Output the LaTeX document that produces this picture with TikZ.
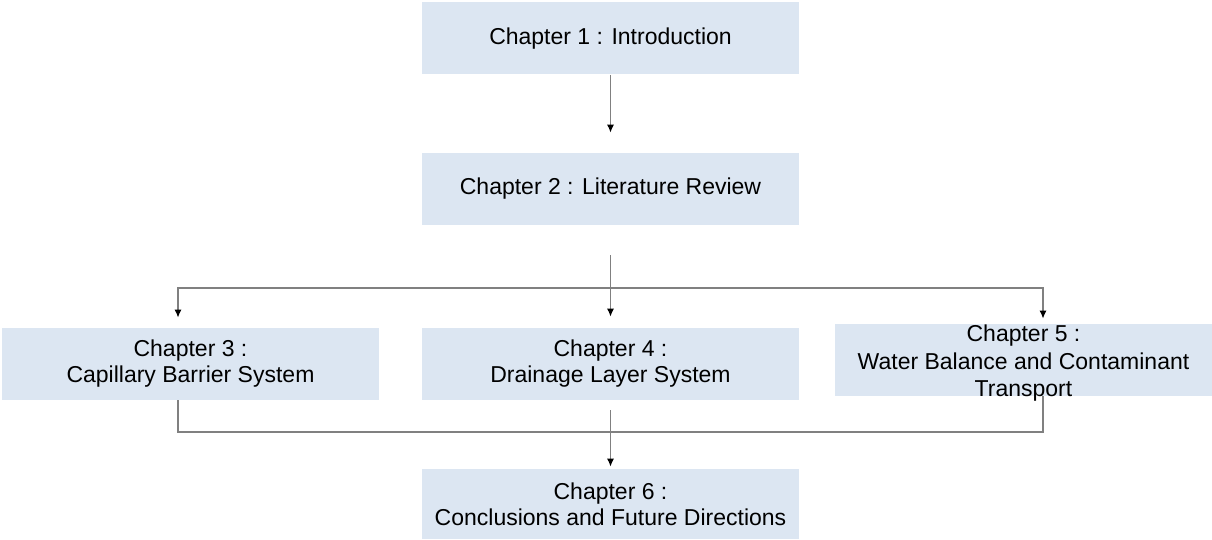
\documentclass[tikz,border=0pt]{standalone}
\usepackage{fontspec}
\setmainfont{Liberation Sans}
\usetikzlibrary{arrows.meta, positioning}
\definecolor{boxblue}{RGB}{220,230,242}
\definecolor{linegray}{RGB}{128,128,128}
\newcommand{\chapfont}{\fontsize{11.5}{13}\selectfont}

\begin{document}
\begin{tikzpicture}[x=0.5pt, y=-0.5pt,
  chap/.style = {fill=boxblue, minimum width=188.5pt, minimum height=36pt,
                 inner sep=0pt, align=center, font=\chapfont},
  link/.style = {draw=linegray, line width=0.6pt},
  >={Latex[length=4pt, width=3.5pt, black]}]

\useasboundingbox (0,0) rectangle (1212,540);

% the chapter boxes
\node[chap] (c1) at (610.5,38.5) {Chapter 1 : Introduction};
\node[chap] (c2) at (610.5,189)  {Chapter 2 : Literature Review};
\node[chap] (c3) at (190.5,364)  {Chapter 3 :\\Capillary Barrier System};
\node[chap] (c4) at (610.5,364)  {Chapter 4 :\\Drainage Layer System};
\node[chap] (c5) at (1023.5,360) {};
\node[align=center, font=\fontsize{11.5}{13.75}\selectfont] (t5) at (1023.5,363.5)
  {Chapter 5 :\\Water Balance and Contaminant\\Transport};
\node[chap, minimum height=35pt] (c6) at (610.5,504)
  {Chapter 6 :\\Conclusions and Future Directions};

% split and merge points
\coordinate (split) at (610.5,288);
\coordinate (merge) at (610.5,432);

\draw[link, ->, shorten >=10pt] (c1) -- (c2);
\draw[link] ([yshift=-15pt]c2.south) -- (split);

% from the split down to chapters 3, 4 and 5
\foreach \n/\dx/\gap in {3/-6.25pt/5pt, 4/0pt/5.5pt, 5/9.75pt/2.5pt}
  \draw[link, ->, shorten >=\gap] (split) -| ([xshift=\dx]c\n.north);

% chapters 3, 4 and 5 lead to chapter 6
\draw[link] ([xshift=-6.25pt]c3.south) |- (merge) -| ([xshift=9.75pt]c5.south);
\draw[link, ->, shorten >=1pt] ([yshift=-5pt]c4.south) -- (c6);

\end{tikzpicture}
\end{document}
